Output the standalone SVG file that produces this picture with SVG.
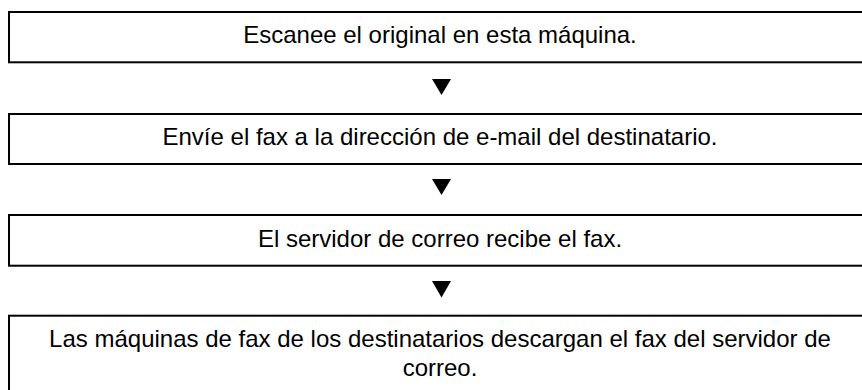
<svg xmlns="http://www.w3.org/2000/svg" width="862" height="390" viewBox="0 0 862 390">
<style>
.box{fill:#fff;stroke:#000;stroke-width:2}
.lbl{font-family:"Liberation Sans",Arial,sans-serif;font-size:24px;fill:#000;text-anchor:middle}
.arr{fill:#000}
</style>
<rect width="862" height="390" fill="#fff"/>
<g id="node1">
<rect class="box" x="9" y="12" width="880" height="50.3"/>
<text class="lbl" x="440" y="43.3">Escanee el original en esta máquina.</text>
</g>
<g id="node2">
<rect class="box" x="9" y="114" width="880" height="50"/>
<text class="lbl" x="440" y="145">Envíe el fax a la dirección de e-mail del destinatario.</text>
</g>
<g id="node3">
<rect class="box" x="9" y="215" width="880" height="50.7"/>
<text class="lbl" x="440" y="246.5">El servidor de correo recibe el fax.</text>
</g>
<g id="node4">
<rect class="box" x="9" y="315.7" width="880" height="100"/>
<text class="lbl" x="440" y="346.5">Las máquinas de fax de los destinatarios descargan el fax del servidor de</text>
<text class="lbl" x="440" y="376">correo.</text>
</g>
<g id="connectors">
<polygon class="arr" points="432,79 451,79 441.5,95"/>
<polygon class="arr" points="432,179 451,179 441.5,195"/>
<polygon class="arr" points="432,281 451,281 441.5,297.5"/>
</g>
</svg>
